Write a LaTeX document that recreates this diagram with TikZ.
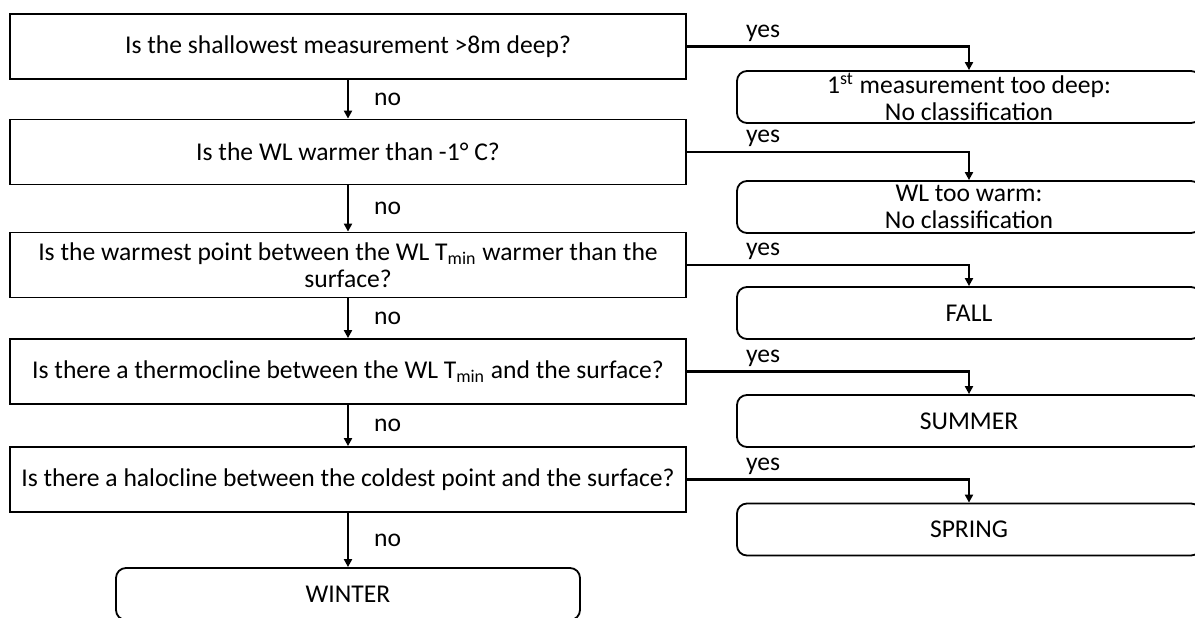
\documentclass[tikz,border=0pt]{standalone}
\usepackage{fontspec}
\setmainfont{Carlito}
\usetikzlibrary{arrows.meta}

\begin{document}
\begin{tikzpicture}[x=0.5pt,y=-0.5pt,
    question/.style={draw, line width=0.9pt, minimum width=338pt, minimum height=32.5pt,
        align=center, inner sep=0pt, font=\fontsize{12.8}{13.5}\selectfont},
    outcome/.style={draw, line width=0.9pt, rounded corners=5pt, minimum width=232pt,
        minimum height=26pt, align=center, inner sep=0pt, font=\fontsize{12.8}{13.8}\selectfont},
    link/.style={line width=1.1pt, -{Triangle[length=4pt,width=4pt]}},
    yeslabel/.style={above, inner sep=2pt, font=\fontsize{12.8}{14}\selectfont},
    nolabel/.style={anchor=west, inner sep=0pt, xshift=12.5pt, font=\fontsize{12.8}{14}\selectfont}]
    \useasboundingbox (0,0) rectangle (1195,617);
    \clip (0,0) rectangle (1195,617);

    % Questions
    \node[question] (q1) at (348,46.5) {Is the shallowest measurement >8m deep?};
    \node[question] (q2) at (348,152) {Is the WL warmer than -1° C?};
    \node[question] (q3) at (348,265) {Is the warmest point between the WL T\textsubscript{min} warmer than the\\surface?};
    \node[question] (q4) at (348,371.5) {Is there a thermocline between the WL T\textsubscript{min} and the surface?};
    \node[question] (q5) at (348,479.5) {Is there a halocline between the coldest point and the surface?};

    % Outcomes
    \node[outcome] (r1) at (969,97) {1\textsuperscript{st} measurement too deep:\\No classification};
    \node[outcome] (r2) at (969,207) {WL too warm:\\No classification};
    \node[outcome] (r3) at (969,313) {FALL};
    \node[outcome] (r4) at (969,421) {SUMMER};
    \node[outcome] (r5) at (969,529.5) {SPRING};
    \node[outcome] (winter) at (348,594) {WINTER};

    % no branch
    \draw[link] (q1) -- node[nolabel] {no} (q2);
    \draw[link] (q2) -- node[nolabel] {no} (q3);
    \draw[link] (q3) -- node[nolabel] {no} (q4);
    \draw[link] (q4) -- node[nolabel] {no} (q5);
    \draw[link] (q5) -- node[nolabel] {no} (winter);

    % yes branch
    \draw[link] (q1.east) -| node[yeslabel, pos=0.135] {yes} (r1.north);
    \draw[link] (q2.east) -| node[yeslabel, pos=0.135] {yes} (r2.north);
    \draw[link] (q3.east) -| node[yeslabel, pos=0.135] {yes} (r3.north);
    \draw[link] (q4.east) -| node[yeslabel, pos=0.135] {yes} (r4.north);
    \draw[link] (q5.east) -| node[yeslabel, pos=0.135] {yes} (r5.north);
\end{tikzpicture}
\end{document}
